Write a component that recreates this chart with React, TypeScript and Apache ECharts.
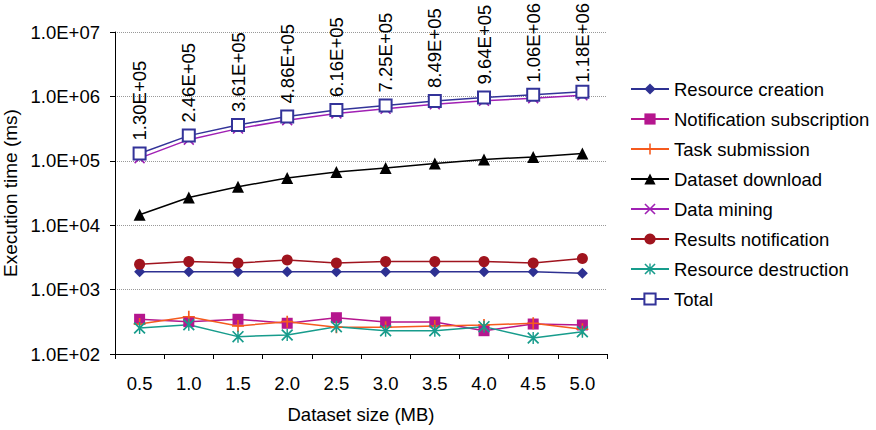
import React, { useEffect, useRef } from "react";
import * as echarts from "echarts";

const categories = ["0.5", "1.0", "1.5", "2.0", "2.5", "3.0", "3.5", "4.0", "4.5", "5.0"];
const resourceCreation = [1900, 1900, 1900, 1900, 1900, 1900, 1900, 1900, 1900, 1800];
const notificationSubscription = [346, 318, 346, 300, 366, 314, 314, 230, 292, 282];
const taskSubmission = [292, 379, 272, 318, 260, 260, 272, 282, 300, 242];
const datasetDownload = [14500, 26900, 39500, 53900, 66800, 77000, 90800, 105000, 115000, 130000];
const dataMining = [110000, 213000, 316000, 427000, 544000, 643000, 753000, 854000, 940000, 1040000];
const resultsNotification = [2470, 2720, 2590, 2880, 2590, 2720, 2720, 2720, 2590, 3030];
const resourceDestruction = [253, 285, 186, 197, 266, 230, 230, 266, 177, 222];
const total = [130000, 246000, 361000, 486000, 616000, 725000, 849000, 964000, 1060000, 1180000];

const FONT = "'Liberation Sans', Arial, sans-serif";
const FS = 18.5;

const CROSS = "path://M0,1 L1,0 L10,9 L9,10 Z M9,0 L10,1 L1,10 L0,9 Z";
const PLUS = "path://M4.3,0 L5.7,0 L5.7,4.3 L10,4.3 L10,5.7 L5.7,5.7 L5.7,10 L4.3,10 L4.3,5.7 L0,5.7 L0,4.3 L4.3,4.3 Z";
const STAR = "path://M0,1 L1,0 L10,9 L9,10 Z M9,0 L10,1 L1,10 L0,9 Z M4.4,0 L5.6,0 L5.6,10 L4.4,10 Z";

function sci(v: number, digits: number): string {
  const [m, e] = v.toExponential(digits).split("e");
  const sign = e[0] === "-" ? "-" : "+";
  const d = e.replace(/^[+-]/, "").padStart(2, "0");
  return m + "E" + sign + d;
}

export default function App() {
  const ref = useRef<HTMLDivElement>(null);
  useEffect(() => {
    if (!ref.current) return;
    const chart = echarts.init(ref.current, null, { renderer: "svg" });
    const mk = (name: string, data: number[], color: string, symbol: string, size: number, extra: any = {}) => ({
      name,
      type: "line",
      data,
      symbol,
      symbolSize: size,
      lineStyle: { color, width: 1.5 },
      itemStyle: { color, borderWidth: 0 },
      emphasis: { disabled: true },
      ...extra,
    });
    chart.setOption({
      animation: false,
      textStyle: { fontFamily: FONT },
      grid: { left: 115, right: 269, top: 32, bottom: 76, containLabel: false, outerBoundsMode: "none" },
      legend: {
        orient: "vertical",
        left: 630,
        top: 79,
        padding: 0,
        itemWidth: 38,
        itemHeight: 14,
        itemGap: 10,
        textStyle: { fontSize: FS, color: "#000", fontFamily: FONT, lineHeight: 20, overflow: "none" },
        data: [
          "Resource creation",
          "Notification subscription",
          "Task submission",
          "Dataset download",
          "Data mining",
          "Results notification",
          "Resource destruction",
          "Total",
        ],
      },
      xAxis: {
        type: "category",
        data: categories,
        boundaryGap: true,
        axisLine: { lineStyle: { color: "#000", width: 1 } },
        axisTick: { show: true, interval: 0, length: 5, lineStyle: { color: "#000" } },
        axisLabel: { fontSize: FS, color: "#000", margin: 20, fontFamily: FONT },
        name: "Dataset size (MB)",
        nameLocation: "middle",
        nameGap: 51,
        nameTextStyle: { fontSize: FS, color: "#000", fontFamily: FONT },
        splitLine: { show: false },
      },
      yAxis: {
        type: "log",
        logBase: 10,
        min: 100,
        max: 10000000,
        axisLine: { show: true, lineStyle: { color: "#000", width: 1 } },
        axisTick: { show: true, length: 5, lineStyle: { color: "#000" } },
        axisLabel: {
          fontSize: FS,
          color: "#000",
          margin: 15,
          fontFamily: FONT,
          formatter: (v: number) => sci(v, 1),
        },
        splitLine: { show: true, lineStyle: { type: "dotted", color: "#999", width: 1 } },
        name: "Execution time (ms)",
        nameLocation: "middle",
        nameGap: 91,
        nameTextStyle: { fontSize: 19, color: "#000", fontFamily: FONT },
      },
      series: [
        mk("Resource creation", resourceCreation, "#2E3192", "diamond", 11),
        mk("Notification subscription", notificationSubscription, "#B5168E", "rect", 11),
        mk("Task submission", taskSubmission, "#F55A1E", PLUS, 12),
        mk("Dataset download", datasetDownload, "#000000", "triangle", 12),
        mk("Data mining", dataMining, "#A020B4", CROSS, 11),
        mk("Results notification", resultsNotification, "#A0141E", "circle", 11),
        mk("Resource destruction", resourceDestruction, "#179C8C", STAR, 12),
        mk("Total", total, "#333399", "emptyRect", 12, {
          itemStyle: { color: "#333399", borderColor: "#333399", borderWidth: 1.5 },
          label: {
            show: true,
            position: "top",
            distance: 6,
            rotate: 90,
            align: "left",
            verticalAlign: "middle",
            fontSize: FS,
            color: "#000",
            fontFamily: FONT,
            formatter: (p: any) => sci(p.value, 2),
          },
          labelLayout: (params: any) => {
            const r = params.labelRect;
            if (r && r.y < 3) return { y: 3 + r.height };
            return {};
          },
        }),
      ],
    });
    return () => chart.dispose();
  }, []);
  return <div ref={ref} style={{ position: "absolute", left: 0, top: 0, width: 876, height: 430 }} />;
}
